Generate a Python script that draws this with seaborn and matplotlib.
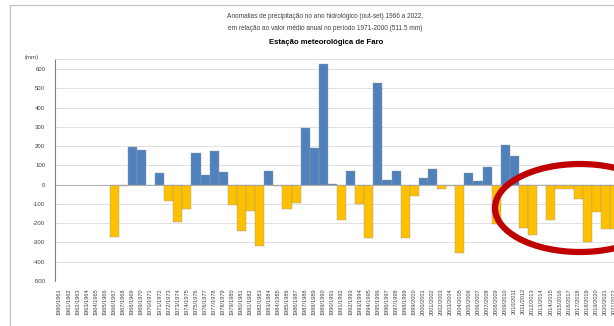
import numpy as np
import pandas as pd
import matplotlib
matplotlib.use("Agg")
import matplotlib.pyplot as plt
from matplotlib.patches import Ellipse
from matplotlib.lines import Line2D
import seaborn as sns

# Hydrological years (Oct-Sep) shown on the axis
first_year = 1960
n_years = 62
anos = [f"{first_year + i}/{first_year + i + 1}" for i in range(n_years)]

# Precipitation anomaly (mm) relative to the 1971-2000 mean (511.5 mm);
# no record before 1966/1967
anomalia = [np.nan] * 6 + [
    -270, -5, 197, 180, 0, 60, -83, -192, -126, 163,
    52, 176, 67, -105, -242, -138, -319, 73, -5, -126,
    -97, 294, 192, 625, 2, -183, 73, -100, -278, 527,
    24, 73, -278, -60, 36, 81, -22, -5, -355, 59,
    18, 93, -204, 206, 147, -226, -261, -3, -183, -22,
    -20, -74, -295, -140, -230, -230,
]

y_ticks = [600, 500, 400, 300, 200, 100, 0, -100, -200, -300, -400, -500]

titulo_1 = "Anomalias de precipitação no ano hidrológico (out-set) 1966 a 2022,"
titulo_2 = "em relação ao valor médio anual no período 1971-2000 (511.5 mm)"
titulo_3 = "Estação meteorológica de Faro"

df = pd.DataFrame({"ano": anos, "anomalia": anomalia})
df["sinal"] = np.where(df["anomalia"] >= 0, "positivo", "negativo")

sns.set_theme(style="white")
plt.rcParams["font.family"] = ["Liberation Sans", "DejaVu Sans"]

W, H = 614, 326
fig = plt.figure(figsize=(W / 100, H / 100), dpi=100)
fig.patch.set_facecolor("white")

# axes in pixel geometry: left 55, right 619 (cut at figure edge), top 59, bottom 281
ax = fig.add_axes([55 / W, (H - 281) / H, 564 / W, (281 - 59) / H])

sns.barplot(
    data=df, x="ano", y="anomalia", hue="sinal", order=anos,
    hue_order=["positivo", "negativo"],
    palette={"positivo": "#4F81BD", "negativo": "#FFC000"},
    saturation=1, width=1.0, dodge=False, errorbar=None, legend=False,
    edgecolor="#9A9A9A", linewidth=0.3, ax=ax,
)

ax.set_xlim(-0.5, n_years - 0.5)
ax.set_ylim(-500, 653)
ax.set_yticks(y_ticks)
ax.set_yticklabels([str(v) for v in y_ticks], fontsize=4.3, color="#404040")
ax.tick_params(axis="y", length=0, pad=7)
ax.set_xticks(range(n_years))
ax.set_xticklabels(anos, rotation=90, fontsize=4.1, color="#404040")
ax.tick_params(axis="x", length=0, pad=5)
ax.set_xlabel("")
ax.set_ylabel("")

ax.grid(axis="y", color="#DADADA", linewidth=0.6)
ax.set_axisbelow(True)
ax.axhline(0, color="#A6A6A6", linewidth=0.6, zorder=1)

for side in ["right", "bottom"]:
    ax.spines[side].set_visible(False)
ax.spines["top"].set_color("#DADADA")
ax.spines["top"].set_linewidth(0.6)
ax.spines["left"].set_color("#808080")
ax.spines["left"].set_linewidth(0.8)

fig.text(25 / W, 1 - 57 / H, "(mm)", fontsize=4.3, color="#404040",
         ha="left", va="center")

fig.text(325 / W, 1 - 17 / H, titulo_1, fontsize=4.7, color="#404040",
         ha="center", va="center")
fig.text(325 / W, 1 - 29 / H, titulo_2, fontsize=4.7, color="#404040",
         ha="center", va="center")
fig.text(326 / W, 1 - 42 / H, titulo_3, fontsize=5.6, color="#000000",
         ha="center", va="center", fontweight="bold")

# chart area border
fig.add_artist(Line2D([10 / W, 10 / W], [0, 1 - 5 / H], transform=fig.transFigure,
                      color="#BFBFBF", linewidth=0.8))
fig.add_artist(Line2D([10 / W, 1], [1 - 5 / H, 1 - 5 / H], transform=fig.transFigure,
                      color="#BFBFBF", linewidth=0.8))

# highlight of the most recent dry years
fig.add_artist(Ellipse((580 / W, 1 - 208 / H), 170 / W, 88 / H,
                       transform=fig.transFigure, fill=False,
                       edgecolor="#C00000", linewidth=4.5, zorder=10))

fig.savefig("out.png", dpi=100)
